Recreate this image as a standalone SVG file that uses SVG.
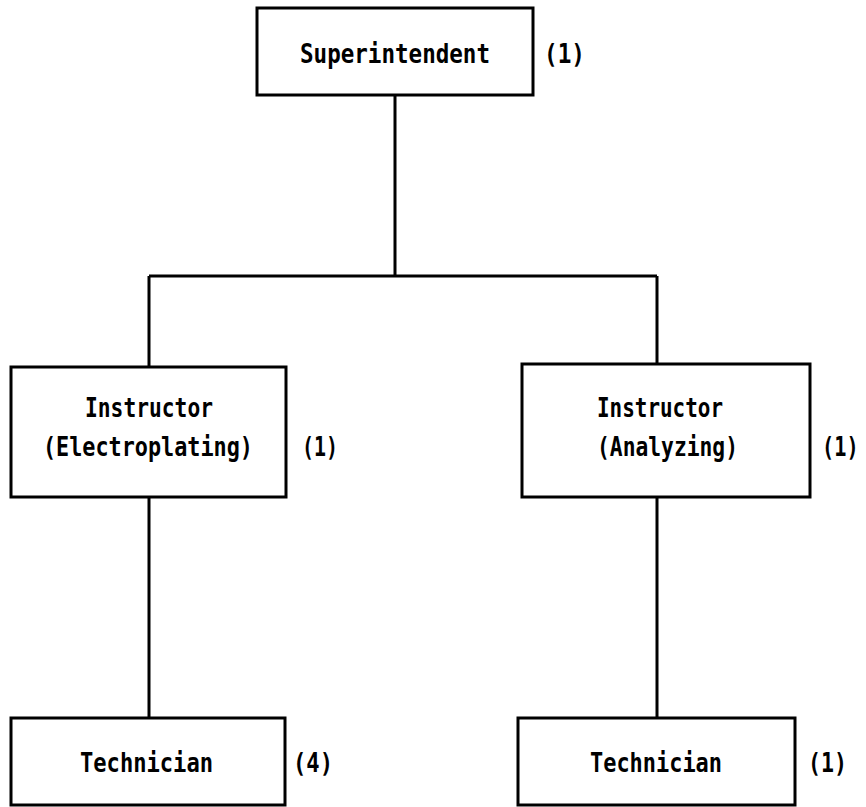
<svg xmlns="http://www.w3.org/2000/svg" width="866" height="807" viewBox="0 0 866 807">
<style>
.box{fill:#fff;stroke:#000;stroke-width:3}
.ln{stroke:#000;stroke-width:3;fill:none}
text{font-family:"DejaVu Sans Mono","Liberation Mono",monospace;font-size:27px;font-weight:bold;fill:#000}
</style>
<rect width="866" height="807" fill="#fff"/>
<g id="connectors">
<path class="ln" d="M395 95 V276 M149 276 H657 M149 276 V367 M657 276 V364 M149 497 V718 M657 497 V718"/>
</g>
<g id="superintendent">
<rect class="box" x="257" y="8" width="276" height="87"/>
<text x="300" y="63" textLength="190" lengthAdjust="spacingAndGlyphs">Superintendent</text>
<text x="544" y="63" textLength="41" lengthAdjust="spacingAndGlyphs">(1)</text>
</g>
<g id="instructor-electroplating">
<rect class="box" x="11" y="367" width="275" height="130"/>
<text x="85" y="417" textLength="128" lengthAdjust="spacingAndGlyphs">Instructor</text>
<text x="43" y="456" textLength="210" lengthAdjust="spacingAndGlyphs">(Electroplating)</text>
<text x="302" y="456" textLength="36" lengthAdjust="spacingAndGlyphs">(1)</text>
</g>
<g id="instructor-analyzing">
<rect class="box" x="522" y="364" width="288" height="133"/>
<text x="597" y="417" textLength="126" lengthAdjust="spacingAndGlyphs">Instructor</text>
<text x="597" y="456" textLength="141" lengthAdjust="spacingAndGlyphs">(Analyzing)</text>
<text transform="translate(822,456) scale(0.75,1)" x="0" y="0">(1)</text>
</g>
<g id="technician-left">
<rect class="box" x="11" y="718" width="274" height="87"/>
<text x="80" y="772" textLength="133" lengthAdjust="spacingAndGlyphs">Technician</text>
<text x="293" y="772" textLength="40" lengthAdjust="spacingAndGlyphs">(4)</text>
</g>
<g id="technician-right">
<rect class="box" x="518" y="718" width="277" height="87"/>
<text x="590" y="772" textLength="132" lengthAdjust="spacingAndGlyphs">Technician</text>
<text x="808" y="772" textLength="39" lengthAdjust="spacingAndGlyphs">(1)</text>
</g>
</svg>
